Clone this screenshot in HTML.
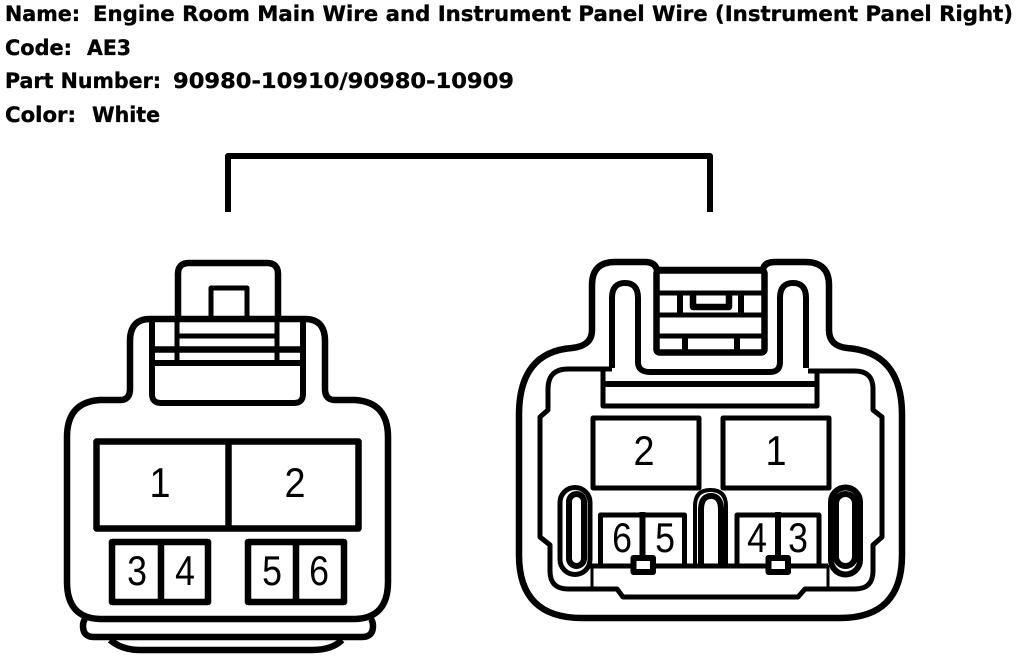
<!DOCTYPE html>
<html><head><meta charset="utf-8"><style>
html,body{margin:0;padding:0;background:#fff}
svg{display:block}
.h{font-family:"DejaVu Sans",sans-serif;font-weight:bold;font-size:21px;fill:#000;stroke:#000;stroke-width:.35px}
.d{font-family:"Liberation Sans",sans-serif;font-size:42px;fill:#000;text-anchor:middle}
path,rect,line{fill:none;stroke:#000;stroke-linejoin:round}
</style></head><body>
<svg width="1024" height="656" viewBox="0 0 1024 656" xmlns="http://www.w3.org/2000/svg">
<rect x="0" y="0" width="1024" height="656" style="fill:#fff;stroke:none"/>
<text class="h" x="5" y="21" textLength="75" lengthAdjust="spacingAndGlyphs">Name:</text>
<text class="h" x="93" y="21" textLength="920" lengthAdjust="spacingAndGlyphs">Engine Room Main Wire and Instrument Panel Wire (Instrument Panel Right)</text>
<text class="h" x="5" y="55" textLength="67" lengthAdjust="spacingAndGlyphs">Code:</text>
<text class="h" x="87" y="55" textLength="44" lengthAdjust="spacingAndGlyphs">AE3</text>
<text class="h" x="5" y="88" textLength="156" lengthAdjust="spacingAndGlyphs">Part Number:</text>
<text class="h" x="173" y="88" textLength="341" lengthAdjust="spacingAndGlyphs">90980-10910/90980-10909</text>
<text class="h" x="5" y="122" textLength="71" lengthAdjust="spacingAndGlyphs">Color:</text>
<text class="h" x="92" y="122" textLength="68" lengthAdjust="spacingAndGlyphs">White</text>

<path d="M228 212V156H710V212" stroke-width="6"/>

<!-- left connector -->
<g stroke-width="6.500">
<path d="M178 318V274Q178 263 189 263H267Q278 263 278 274V318"/>
<path d="M211 318V288H247V318" stroke-width="5"/>
<path d="M150 319H305Q325 319 325 341V389Q325 400 335 400H355Q388 402 388 437V582Q388 618 355 619H100Q67 618 67 582V437Q67 402 100 400H120Q130 400 130 389V341Q130 319 150 319Z"/>
<path d="M152 318V394Q152 403 161 403H294Q303 403 303 394V318" stroke-width="6"/>
<path d="M178 336H277" stroke-width="5"/>
<path d="M152 349.500H303"/>
<path d="M152 363H303" stroke-width="6"/>
<path d="M177 318V363M277 318V363" stroke-width="5"/>
<rect x="96.500" y="441.500" width="262" height="87"/>
<path d="M228.500 441V529"/>
<rect x="112" y="542" width="96" height="60"/>
<path d="M161 542V602"/>
<rect x="248" y="542" width="96" height="60"/>
<path d="M296 542V602"/>
<path d="M85 619Q83 622 83 626Q83 637 94 637H362Q373 637 373 626Q373 622 371 619"/>
<path d="M110 640Q122 650 140 650H312Q332 650 342 640"/>
</g>
<g>
<text class="d" transform="translate(160 497) scale(.9 1)">1</text>
<text class="d" transform="translate(295 497) scale(.9 1)">2</text>
<text class="d" transform="translate(137 585) scale(.85 1)">3</text>
<text class="d" transform="translate(185 585) scale(.85 1)">4</text>
<text class="d" transform="translate(272 585) scale(.85 1)">5</text>
<text class="d" transform="translate(319 585) scale(.85 1)">6</text>
</g>

<!-- right connector -->
<g stroke-width="6.500">
<path d="M657 270H763Q764 262 775 262H805Q829 262 829 285V330Q829 346 847 348Q902 352 902 415V555Q902 618 840 618H582Q519 618 519 555V415Q519 352 572 348Q592 346 592 330V285Q592 262 615 262H645Q655 262 657 270Z"/>
<path d="M612 368V298Q612 283 625 283Q638 283 638 298V362Q638 372 650 372H770Q780 372 780 362V298Q780 283 793 283Q806 283 806 298V368" stroke-width="6"/>
<path d="M612 369 H568Q548 369 548 389V410L540 417V537L550 545V571Q550 589 568 589H617L623 597H798L805 589H855Q873 589 873 571V545L882 537V417L873 410V389Q873 371 855 371H808" stroke-width="5"/>
<rect x="656.500" y="270.500" width="108" height="82" rx="3"/>
<path d="M656 293H765M656 315H765M656 336H765" stroke-width="5"/>
<path d="M680 293V315M741 293V315M685 336V353M737 336V353" stroke-width="6"/>
<path d="M693 293V307H729V293" stroke-width="6.500"/>
<path d="M603 371V406H817V371" stroke-width="5"/>
<path d="M603 384H817" stroke-width="6"/>
<rect x="593" y="418" width="106" height="70" stroke-width="5"/>
<rect x="723" y="418" width="106" height="70" stroke-width="5"/>
<rect x="560" y="487.500" width="30" height="87" rx="15" stroke-width="5"/>
<rect x="569" y="494" width="15" height="72" rx="7.500" stroke-width="6"/>
<rect x="831" y="487.500" width="29" height="87" rx="14.500" stroke-width="6"/>
<rect x="836" y="494" width="19" height="72" rx="9.500" stroke-width="6"/>
<path d="M695 565V506Q695 490 710.500 490Q726 490 726 506V565" stroke-width="4"/>
<path d="M701 565V510Q701 496 711 496Q721 496 721 510V565" stroke-width="6"/>
<path d="M600.500 565V515H684.500V565" stroke-width="5"/>
<path d="M737 565V515H819V565" stroke-width="5"/>
<path d="M642.500 512V560M778 512V560" stroke-width="6"/>
<path d="M590 566H828" stroke-width="5"/>
<path d="M592 565V589M828 565V589" stroke-width="3"/>
<rect x="633.500" y="558" width="19.500" height="14" style="fill:#fff" stroke-width="6"/>
<rect x="768.500" y="558" width="19.500" height="14" style="fill:#fff" stroke-width="6"/>
</g>
<g>
<text class="d" transform="translate(644 465) scale(.9 1)">2</text>
<text class="d" transform="translate(776 465) scale(.9 1)">1</text>
<text class="d" transform="translate(622 552) scale(.85 1)">6</text>
<text class="d" transform="translate(665 552) scale(.85 1)">5</text>
<text class="d" transform="translate(757 552) scale(.85 1)">4</text>
<text class="d" transform="translate(798 552) scale(.85 1)">3</text>
</g>
</svg>
</body></html>
